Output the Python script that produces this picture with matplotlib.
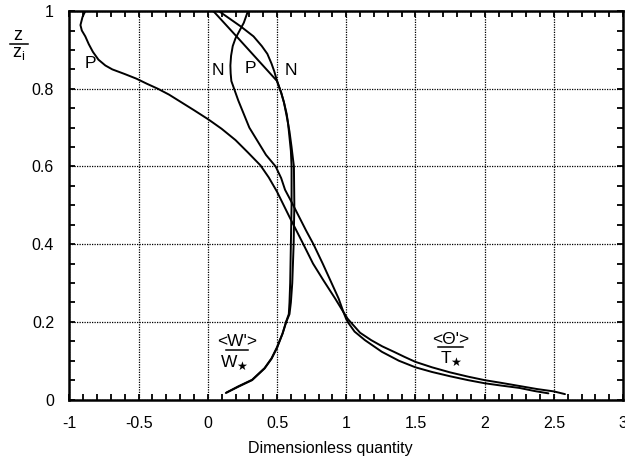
import matplotlib
matplotlib.use("Agg")
import matplotlib.pyplot as plt
from matplotlib.ticker import MultipleLocator, FixedLocator

plt.rcParams['font.family'] = ['Liberation Sans', 'DejaVu Sans']

# Temperature-fluctuation profiles <Θ'>/T*
theta_p_x = [-0.885, -0.905, -0.92, -0.91, -0.885, -0.86, -0.83, -0.79, -0.74, -0.69,
             -0.6, -0.515, -0.44, -0.36, -0.28, -0.19, -0.1, 0.005, 0.1, 0.2, 0.29,
             0.38, 0.44, 0.5, 0.59, 0.69, 0.76, 0.835, 0.92, 0.98, 1.01, 1.05, 1.1,
             1.18, 1.26, 1.35, 1.42, 1.5, 1.62, 1.75, 1.88, 2.0, 2.12, 2.25, 2.38, 2.5,
             2.58]
theta_p_y = [1.0, 0.985, 0.964, 0.95, 0.935, 0.915, 0.895, 0.875, 0.86, 0.85,
             0.838, 0.826, 0.813, 0.8, 0.785, 0.765, 0.745, 0.721, 0.697, 0.668, 0.636,
             0.603, 0.572, 0.535, 0.47, 0.4, 0.35, 0.307, 0.26, 0.225, 0.208, 0.192, 0.172,
             0.153, 0.137, 0.122, 0.11, 0.097, 0.083, 0.07, 0.059, 0.05, 0.043, 0.035,
             0.027, 0.021, 0.014]

theta_n_x = [0.29, 0.275, 0.26, 0.23, 0.2, 0.18, 0.168, 0.163, 0.165, 0.17, 0.19, 0.22,
             0.26, 0.3, 0.36, 0.42, 0.49, 0.53, 0.558, 0.61, 0.66, 0.71, 0.763, 0.83,
             0.885, 0.945, 0.98, 1.0, 1.02, 1.06, 1.135, 1.2, 1.257, 1.38, 1.5, 1.62,
             1.75, 1.88, 2.0, 2.12, 2.25, 2.36, 2.46]
theta_n_y = [1.0, 0.985, 0.97, 0.95, 0.93, 0.91, 0.885, 0.86, 0.84, 0.82, 0.8, 0.77,
             0.735, 0.7, 0.665, 0.63, 0.6, 0.57, 0.54, 0.505, 0.47, 0.435, 0.4, 0.35,
             0.307, 0.26, 0.225, 0.207, 0.195, 0.175, 0.153, 0.137, 0.123, 0.1, 0.083,
             0.071, 0.06, 0.05, 0.042, 0.036, 0.03, 0.022, 0.016]

# Vertical-velocity profiles <W'>/W*
w_p_x = [0.04, 0.13, 0.22, 0.36, 0.5, 0.53, 0.55, 0.57, 0.58, 0.59, 0.6, 0.605, 0.605,
         0.6, 0.595, 0.59, 0.585, 0.565, 0.54, 0.5, 0.46, 0.41, 0.32, 0.22, 0.13]
w_p_y = [1.0, 0.965, 0.93, 0.875, 0.82, 0.79, 0.765, 0.735, 0.71, 0.675, 0.64, 0.6, 0.5,
         0.4, 0.3, 0.25, 0.22, 0.2, 0.17, 0.133, 0.105, 0.08, 0.05, 0.033, 0.017]

w_n_x = [0.08, 0.16, 0.24, 0.33, 0.39, 0.43, 0.46, 0.48, 0.5, 0.53, 0.55, 0.575, 0.59,
         0.605, 0.615, 0.622, 0.625, 0.62, 0.61, 0.6, 0.59, 0.567, 0.54, 0.5, 0.46,
         0.41, 0.32, 0.22, 0.135]
w_n_y = [1.0, 0.98, 0.96, 0.935, 0.91, 0.89, 0.865, 0.845, 0.82, 0.79, 0.765, 0.72, 0.69,
         0.65, 0.62, 0.6, 0.5, 0.4, 0.3, 0.25, 0.22, 0.2, 0.17, 0.135, 0.106, 0.081,
         0.051, 0.034, 0.018]

x_ticks = [-1, -0.5, 0, 0.5, 1, 1.5, 2, 2.5, 3]
x_tick_labels = ['-1', '-0.5', '0', '0.5', '1', '1.5', '2', '2.5', '3']
y_ticks = [0, 0.2, 0.4, 0.6, 0.8, 1]
y_tick_labels = ['0', '0.2', '0.4', '0.6', '0.8', '1']

fig = plt.figure(figsize=(6.25, 4.63), dpi=100)
ax = fig.add_axes([0.111, 0.137, 0.886, 0.839])

for xs, ys in [(theta_p_x, theta_p_y), (theta_n_x, theta_n_y),
               (w_p_x, w_p_y), (w_n_x, w_n_y)]:
    ax.plot(xs, ys, color='black', lw=1.4, solid_joinstyle='round',
            solid_capstyle='round')

ax.set_xlim(-1, 3)
ax.set_ylim(0, 1)
ax.xaxis.set_major_locator(FixedLocator(x_ticks))
ax.yaxis.set_major_locator(FixedLocator(y_ticks))
ax.set_xticklabels(x_tick_labels)
ax.set_yticklabels(y_tick_labels)
ax.xaxis.set_minor_locator(MultipleLocator(0.1))
ax.yaxis.set_minor_locator(MultipleLocator(0.05))
ax.tick_params(which='both', direction='in', top=True, right=True, width=1.3,
               length=4, labelsize=11.5, colors='black')
ax.tick_params(axis='x', which='major', pad=12)
ax.tick_params(axis='y', which='major', pad=11)
ax.grid(True, which='major', color='black', linestyle=(0, (1, 1)), linewidth=0.9)
for s in ax.spines.values():
    s.set_linewidth(1.8)

# Curve labels
lab = dict(fontsize=12.5, ha='center', va='center')
ax.text(-0.846, 0.866, 'P', **lab)
ax.text(0.07, 0.848, 'N', **lab)
ax.text(0.31, 0.853, 'P', **lab)
ax.text(0.60, 0.848, 'N', **lab)

# Fraction labels
ax.text(0.21, 0.150, "<W'>", fontsize=12.5, ha='center', va='center')
ax.plot([0.13, 0.29], [0.127, 0.127], color='black', lw=1.1)
ax.text(0.19, 0.094, r"W$_{\bigstar}$", fontsize=12.5, ha='center', va='center')

ax.text(1.755, 0.155, "<Θ'>", fontsize=12.5, ha='center', va='center')
ax.plot([1.665, 1.845], [0.135, 0.135], color='black', lw=1.1)
ax.text(1.76, 0.106, r"T$_{\bigstar}$", fontsize=12.5, ha='center', va='center')

# y-axis label as z / z_i
fig.text(18 / 625, 1 - 35 / 463, 'z', fontsize=13, ha='center', va='center')
fig.add_artist(plt.Line2D([10 / 625, 28 / 625], [1 - 44 / 463, 1 - 44 / 463],
                          color='black', lw=1.1))
fig.text(19 / 625, 1 - 53 / 463, r'z$_\mathregular{i}$', fontsize=13, ha='center',
         va='center')

fig.text(330 / 625, 1 - 449 / 463, 'Dimensionless quantity', fontsize=11.5,
         ha='center', va='center')

fig.savefig('out.png', dpi=100)
